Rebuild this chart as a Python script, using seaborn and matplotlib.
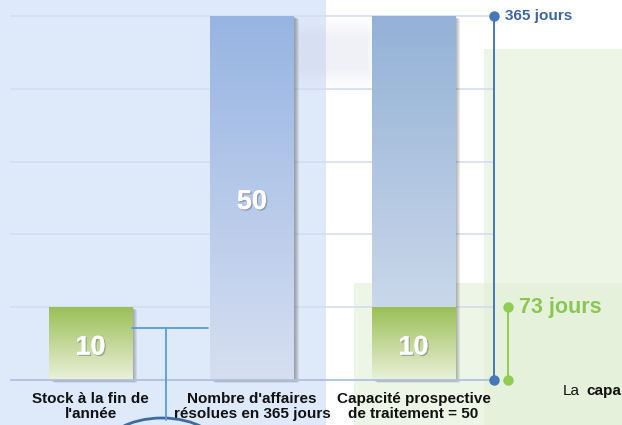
import numpy as np
import pandas as pd
import matplotlib
matplotlib.use("Agg")
import matplotlib.pyplot as plt
import matplotlib.patheffects as pe
from matplotlib import transforms
from matplotlib.colors import to_rgb
from matplotlib.patches import Rectangle, Ellipse
import seaborn as sns

# ---- data -------------------------------------------------------------
categories = [
    "Stock à la fin de\nl'année",
    "Nombre d'affaires\nrésolues en 365 jours",
    "Capacité prospective\nde traitement = 50",
]
capacity = [0, 50, 50]        # blue bars (cases handled per year)
stock = [10, 0, 10]           # green bars (pending cases)
days_in_year = 365

sns.set_theme(style="white")
plt.rcParams["font.family"] = ["Liberation Sans", "DejaVu Sans"]

W, H = 622, 425
fig = plt.figure(figsize=(W / 100, H / 100), dpi=100)
fig.patch.set_facecolor("white")

# ---- background panels (pixel space) -----------------------------------
bg = fig.add_axes([0, 0, 1, 1], zorder=0)
bg.set_xlim(0, W)
bg.set_ylim(H, 0)
bg.axis("off")
bg.add_patch(Rectangle((0, 0), 326, H, color="#dee9f9", lw=0))
bg.add_patch(Rectangle((354, 283), W - 354, H - 283, color="#e2efd6", alpha=0.6, lw=0))
bg.add_patch(Rectangle((484, 49), W - 484, H - 49, color="#e2efd6", alpha=0.6, lw=0))

# soft haze between the two tall bars
gy, gx = np.mgrid[0:1:80j, 0:1:100j]
def soft(t, e):
    return np.clip(np.minimum(t, 1 - t) / e, 0, 1) ** 1.5
haze = np.zeros((80, 100, 4))
haze[..., :3] = to_rgb("#c4c4e0")
haze[..., 3] = 0.24 * soft(gx, 0.12) * soft(gy, 0.3)
bg.imshow(haze, extent=[290, 378, 94, 12], origin="upper", aspect="auto",
          interpolation="bilinear", zorder=2)
bg.set_xlim(0, W)
bg.set_ylim(H, 0)

# ---- main chart -------------------------------------------------------
px_per_unit = 7.28
top_px, base_px, bottom_px = 10, 380, 384
ax = fig.add_axes([9.75 / W, (H - bottom_px) / H, 484.5 / W, (bottom_px - top_px) / H], zorder=1)
ax.patch.set_alpha(0)

df = pd.DataFrame({"cat": categories, "capacity": capacity, "stock": stock})
bar_w = 0.514
sns.barplot(data=df, x="cat", y="capacity", color="#a0b8e0", width=bar_w,
            saturation=1, ax=ax)
sns.barplot(data=df, x="cat", y="stock", color="#9bbe55", width=bar_w,
            saturation=1, ax=ax)

blue_patches = ax.patches[:3]
green_patches = ax.patches[3:6]

blue_grad = [("#97b4e2", "#d6dff1"), ("#97b4e2", "#d6dff1"), ("#93b1d6", "#d7e1ef")]
green_grad = ("#9bbf56", "#eaf1da")


def gradient_fill(patch, top, bottom, z):
    x, y = patch.get_x(), patch.get_y()
    w, h = patch.get_width(), patch.get_height()
    t = np.linspace(0, 1, 256)[:, None, None]
    img = np.array(to_rgb(top))[None, None, :] * (1 - t) + np.array(to_rgb(bottom))[None, None, :] * t
    im = ax.imshow(img, extent=[x, x + w, y, y + h], origin="upper", aspect="auto",
                   interpolation="bilinear", zorder=z)
    im.set_clip_path(patch)
    patch.set_facecolor("none")
    patch.set_edgecolor("none")
    patch.set_zorder(z)


def shadow(patch):
    x, y = patch.get_x(), patch.get_y()
    w, h = patch.get_width(), patch.get_height()
    for k in range(1, 6):
        off = transforms.ScaledTranslation(k / 100, -0.5 * k / 100, fig.dpi_scale_trans)
        ax.add_patch(Rectangle((x, y), w, h, transform=ax.transData + off,
                               color="#4a4a4a", alpha=0.11, lw=0, zorder=1.5))


for i, p in enumerate(blue_patches):
    if p.get_height() > 0:
        shadow(p)
for i, p in enumerate(green_patches):
    if p.get_height() > 0 and capacity[i] == 0:
        shadow(p)

for i, p in enumerate(blue_patches):
    if p.get_height() > 0:
        gradient_fill(p, *blue_grad[i], z=2)
    else:
        p.set_visible(False)
for p in green_patches:
    if p.get_height() > 0:
        gradient_fill(p, *green_grad, z=3)
    else:
        p.set_visible(False)

# value labels, centred on each visible segment
label_shift = transforms.ScaledTranslation(0, -4 / 100, fig.dpi_scale_trans)
for i in range(len(categories)):
    val = stock[i] if stock[i] > 0 else capacity[i]
    ax.text(i, val / 2, f"{val}", ha="center", va="center", color="white",
            fontsize=19.5, fontweight="bold", zorder=5,
            transform=ax.transData + label_shift,
            path_effects=[pe.withSimplePatchShadow(offset=(1, -1), shadow_rgbFace="#666666", alpha=0.45),
                          pe.Normal()])

ax.set_xlim(-0.5, 2.5)
ax.set_ylim(-(bottom_px - base_px) / px_per_unit, (base_px - top_px) / px_per_unit)
ax.set_yticks([10, 20, 30, 40, 50])
ax.yaxis.grid(True, color="#d0dcf0", lw=1.1)
ax.set_axisbelow(True)
ax.axhline(0, color="#adc1e3", lw=1.3, zorder=4)
ax.tick_params(axis="y", length=0, labelleft=False)
ax.set_xticks(range(len(categories)))
ax.set_xticklabels(categories, fontsize=11, fontweight="bold", color="#111111",
                   linespacing=1.1)
ax.tick_params(axis="x", length=0, pad=6)
ax.set_xlabel("")
ax.set_ylabel("")
for s in ax.spines.values():
    s.set_visible(False)

# ---- time axis on the right -------------------------------------------
total = capacity[2]
pending_days = round(days_in_year * stock[2] / total)
bt = transforms.blended_transform_factory(ax.transAxes, ax.transData)
blue_c, green_c = "#4677b8", "#8fcd55"
ax.plot([1, 1], [0, total], color=blue_c, lw=1.4, transform=bt, clip_on=False, zorder=6)
ax.plot([1, 1], [0, total], ls="none", marker="o", ms=6.5, color=blue_c,
        transform=bt, clip_on=False, zorder=7)
gx_pos = 1 + 14 / 484.5
ax.plot([gx_pos, gx_pos], [0, stock[2]], color=green_c, lw=1.4, transform=bt,
        clip_on=False, zorder=6)
ax.plot([gx_pos, gx_pos], [0, stock[2]], ls="none", marker="o", ms=6.5, color=green_c,
        transform=bt, clip_on=False, zorder=7)
ax.annotate(f"{days_in_year} jours", xy=(1, total), xycoords=bt, xytext=(8, 0),
            textcoords="offset points", va="center", ha="left", fontsize=11,
            fontweight="bold", color="#3c66a3", annotation_clip=False)
ax.annotate(f"{pending_days} jours", xy=(gx_pos, stock[2]), xycoords=bt, xytext=(8, 0),
            textcoords="offset points", va="center", ha="left", fontsize=15.5,
            fontweight="bold", color="#8cc652", annotation_clip=False)

# ---- connector and callouts (pixel space) -----------------------------
ov = fig.add_axes([0, 0, 1, 1], zorder=3)
ov.set_xlim(0, W)
ov.set_ylim(H, 0)
ov.axis("off")
ov.patch.set_alpha(0)
ov.plot([132, 208], [328, 328], color="#5b9bd5", lw=1.3)
ov.plot([166, 166], [328, 420], color="#5b9bd5", lw=1.3)
ov.add_patch(Ellipse((162, 453), 120, 70, fill=False, edgecolor="#3d6b9e", lw=2))
ov.text(563, 391, "La", fontsize=11, va="center", ha="left", color="#111111")
ov.text(621, 391, "capa", fontsize=11, va="center", ha="right",
        fontweight="bold", color="#111111")

fig.savefig("out.png", dpi=100)
